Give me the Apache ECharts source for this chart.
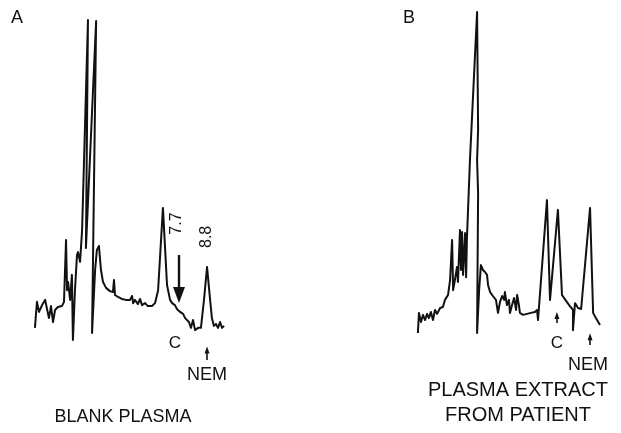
<!DOCTYPE html>
<html><head><meta charset="utf-8">
<script src="https://cdn.jsdelivr.net/npm/echarts@6/dist/echarts.min.js"></script>
<style>html,body{margin:0;padding:0;background:#fff}#c{width:621px;height:433px}</style>
</head><body><div id="c"></div>
<script>
// ---- data (time in min, detector response in relative units) ----
const panelLetters = ['A', 'B'];
const panelCaptions = ['BLANK PLASMA', 'PLASMA EXTRACT\nFROM PATIENT'];
const retentionLabels = ['7.7', '8.8'];
const compoundLabels = ['C', 'NEM'];

const blankPlasma = [
  [2.05,2.2],[2.13,10.2],[2.21,7.1],[2.33,9.2],[2.45,10.8],[2.52,11.4],[2.60,5.2],[2.68,8.9],
  [2.76,4.0],[2.84,7.7],[2.95,8.6],[3.11,8.9],[3.19,10.2],[3.27,29.2],[3.31,13.8],[3.35,16.3],
  [3.43,10.8],[3.50,18.5],[3.54,-1.5],[3.62,13.8],[3.70,24.6],[3.74,25.5],[3.82,22.5],[3.90,32.3],
  [4.13,96.9],[4.05,26.8],[4.45,96.6],[4.29,0.6],[4.41,20.0],[4.48,26.2],[4.56,27.4],[4.64,20.0],
  [4.72,16.3],[4.84,14.5],[4.99,13.5],[5.11,13.2],[5.15,16.9],[5.19,12.3],[5.31,11.7],[5.46,11.1],
  [5.62,10.8],[5.78,10.8],[5.86,12.0],[5.90,9.8],[5.97,10.8],[6.09,9.5],[6.17,11.1],[6.25,9.2],
  [6.37,9.8],[6.48,8.9],[6.64,8.9],[6.76,9.8],[6.88,13.8],[7.07,39.1],[7.23,15.4],[7.35,10.8],
  [7.43,9.8],[7.54,9.2],[7.62,8.0],[7.74,7.1],[7.86,6.5],[7.94,5.2],[8.01,5.8],[8.09,4.0],
  [8.17,2.2],[8.25,4.6],[8.33,1.5],[8.45,2.2],[8.56,2.2],[8.68,10.8],[8.80,20.9],[8.92,10.8],
  [8.99,5.2],[9.07,2.8],[9.15,3.4],[9.23,2.2],[9.31,4.0],[9.39,2.2],[9.47,2.8]
];

const patientExtract = [
  [2.05,0.6],[2.09,6.8],[2.17,4.0],[2.25,6.2],[2.33,4.6],[2.41,6.5],[2.48,5.2],[2.56,7.1],
  [2.64,4.6],[2.72,7.7],[2.80,6.5],[2.92,8.3],[3.03,8.6],[3.11,10.8],[3.23,12.3],[3.31,16.9],
  [3.39,29.2],[3.43,13.8],[3.50,16.9],[3.58,20.9],[3.62,16.3],[3.70,32.3],[3.74,20.0],[3.78,31.7],
  [3.82,18.5],[3.90,31.4],[3.94,17.8],[3.97,29.2],[4.09,53.8],[4.37,99.4],[4.41,63.1],[4.37,53.8],
  [4.41,43.7],[4.37,0.6],[4.45,13.8],[4.52,21.5],[4.60,20.0],[4.68,19.4],[4.76,18.5],[4.80,15.4],
  [4.88,13.2],[4.99,12.0],[5.11,10.8],[5.19,6.8],[5.27,10.2],[5.35,12.0],[5.43,10.8],[5.46,13.2],
  [5.54,9.2],[5.62,10.8],[5.66,6.8],[5.74,9.2],[5.82,11.4],[5.90,7.7],[5.94,12.3],[6.01,9.2],
  [6.05,6.8],[6.17,6.2],[6.33,6.5],[6.48,6.8],[6.64,7.1],[6.72,7.7],[6.76,4.6],[7.11,41.5],
  [7.23,10.8],[7.54,38.5],[7.70,12.3],[7.86,10.5],[8.01,8.9],[8.13,7.7],[8.13,1.5],[8.21,9.8],
  [8.33,8.3],[8.45,8.0],[8.80,39.1],[8.92,6.8],[9.03,5.2],[9.19,3.1]
];

// ---- chart ----
const FONT = '"Liberation Sans", Arial, Helvetica, sans-serif';
const INK = '#111';
const chart = echarts.init(document.getElementById('c'), null, {renderer: 'canvas'});

function txt(label, coord, size, extra) {
  return {
    coord: coord, symbol: 'circle', symbolSize: 1,
    itemStyle: {color: 'rgba(0,0,0,0)'},
    label: Object.assign({show: true, position: 'inside', formatter: label, color: INK,
      fontFamily: FONT, fontSize: size}, extra || {})
  };
}
function arrow(from, to, head, width) {
  return [
    {coord: from, symbol: 'none', lineStyle: {width: width, color: INK, type: 'solid'}},
    {coord: to, symbol: 'triangle', symbolSize: head}
  ];
}

const grids = [
  {left: 33.65, top: 10, width: 191.25, height: 390},
  {left: 416.65, top: 10, width: 191.25, height: 390}
];

const option = {
  animation: false,
  backgroundColor: '#fff',
  grid: grids,
  xAxis: [0, 1].map(i => ({type: 'value', gridIndex: i, min: 2, max: 9.5, show: false})),
  yAxis: [0, 1].map(i => ({type: 'value', gridIndex: i, min: -20, max: 100, show: false})),
  series: [
    {
      type: 'line', xAxisIndex: 0, yAxisIndex: 0, data: blankPlasma,
      showSymbol: false, silent: true,
      lineStyle: {color: INK, width: 2, join: 'round'},
      markLine: {
        silent: true, label: {show: false}, symbol: ['none', 'triangle'],
        lineStyle: {color: INK, type: 'solid'},
        itemStyle: {color: INK},
        data: [
          arrow([7.7, 24.6], [7.7, 12.3], [12, 16], 2.4),
          arrow([8.8, -7.7], [8.8, -4.6], [5, 7], 1.6)
        ]
      },
      markPoint: {
        silent: true,
        data: [
          txt(retentionLabels[0], [7.62, 34.3], 16, {rotate: 90}),
          txt(retentionLabels[1], [8.80, 30.2], 16, {rotate: 90}),
          txt(compoundLabels[0], [7.54, -2.6], 17),
          txt(compoundLabels[1], [8.80, -12.3], 18)
        ]
      }
    },
    {
      type: 'line', xAxisIndex: 1, yAxisIndex: 1, data: patientExtract,
      showSymbol: false, silent: true,
      lineStyle: {color: INK, width: 2, join: 'round'},
      markLine: {
        silent: true, label: {show: false}, symbol: ['none', 'triangle'],
        lineStyle: {color: INK, type: 'solid'},
        itemStyle: {color: INK},
        data: [
          arrow([7.50, 3.7], [7.50, 6.0], [5, 7], 1.6),
          arrow([8.80, -3.1], [8.80, -0.5], [5, 7], 1.6)
        ]
      },
      markPoint: {
        silent: true,
        data: [
          txt(compoundLabels[0], [7.50, -2.6], 17),
          txt(compoundLabels[1], [8.72, -9.2], 18)
        ]
      }
    }
  ],
  graphic: [
    {type: 'text', x: 17, y: 18.5, style: {text: panelLetters[0], font: '18px ' + FONT, fill: INK, align: 'center', verticalAlign: 'middle'}},
    {type: 'text', x: 409, y: 18.5, style: {text: panelLetters[1], font: '18px ' + FONT, fill: INK, align: 'center', verticalAlign: 'middle'}},
    {type: 'text', x: 123, y: 417, style: {text: panelCaptions[0], font: '18px ' + FONT, fill: INK, align: 'center', verticalAlign: 'middle'}},
    {type: 'text', x: 518, y: 403, style: {text: panelCaptions[1], font: '20px ' + FONT, lineHeight: 25, fill: INK, align: 'center', verticalAlign: 'middle'}}
  ]
};
chart.setOption(option);
</script>
</body></html>
